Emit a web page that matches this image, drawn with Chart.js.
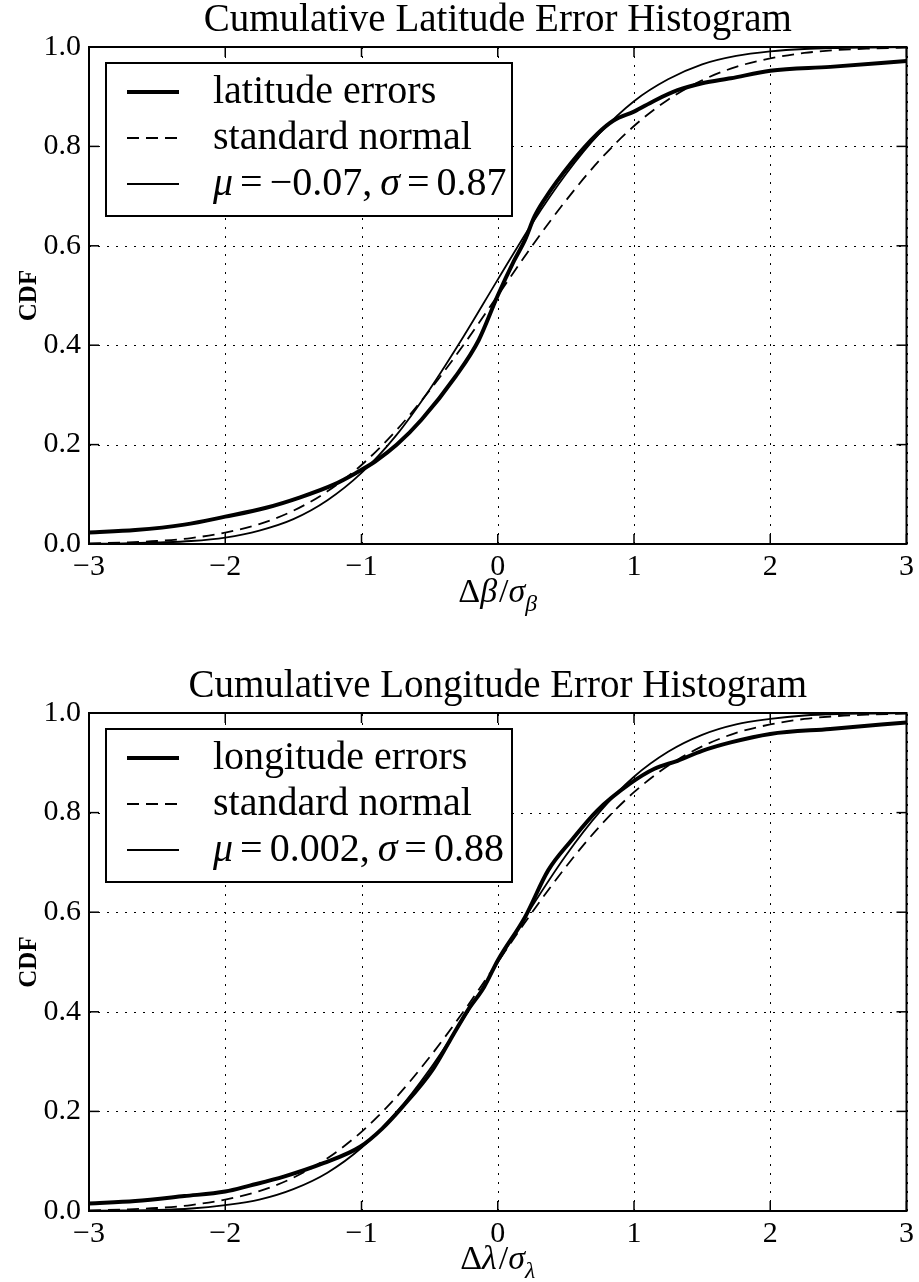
<!DOCTYPE html>
<html>
<head>
<meta charset="utf-8">
<script src="https://cdn.jsdelivr.net/npm/chart.js@4.4.1/dist/chart.umd.min.js"></script>
<style>
  body { margin: 0; background: #fff; width: 919px; height: 1282px; position: relative; overflow: hidden; }
  canvas { position: absolute; left: 0; }
  #latChart { top: 0; }
  #lonChart { top: 662px; }
</style>
</head>
<body>
<canvas id="latChart" width="919" height="620"></canvas>
<canvas id="lonChart" width="919" height="620"></canvas>
<script>
// shared x grid for the two normal curves
const gridX = [-3, -2.75, -2.5, -2.25, -2, -1.75, -1.5, -1.25, -1, -0.75, -0.5, -0.25, 0,
  0.25, 0.5, 0.75, 1, 1.25, 1.5, 1.75, 2, 2.25, 2.5, 2.75, 3];
const stdNormal = [0.001, 0.003, 0.006, 0.012, 0.023, 0.040, 0.067, 0.106, 0.159, 0.227, 0.309, 0.401, 0.5,
  0.599, 0.691, 0.773, 0.841, 0.894, 0.933, 0.960, 0.977, 0.988, 0.994, 0.997, 0.999];

// latitude panel
const latX = [-3, -2.66, -2.3, -2, -1.7, -1.45, -1.2, -1.04, -0.9, -0.74, -0.56, -0.31, -0.14, 0,
  0.12, 0.2, 0.27, 0.34, 0.54, 0.73, 0.85, 1, 1.15, 1.32, 1.5, 1.71, 2, 2.44, 3];
const latY = [0.023, 0.028, 0.039, 0.055, 0.073, 0.094, 0.120, 0.143, 0.166, 0.200, 0.250, 0.337, 0.410, 0.500,
  0.570, 0.612, 0.659, 0.692, 0.767, 0.825, 0.852, 0.870, 0.892, 0.913, 0.927, 0.937, 0.952, 0.960, 0.972];
const latFit = [0.0004, 0.001, 0.003, 0.006, 0.013, 0.027, 0.050, 0.088, 0.143, 0.217, 0.311, 0.418, 0.532,
  0.644, 0.744, 0.827, 0.891, 0.935, 0.965, 0.982, 0.991, 0.996, 0.998, 0.999, 1.0];

// longitude panel
const lonX = [-3, -2.66, -2.3, -2, -1.82, -1.57, -1.28, -1.01, -0.85, -0.7, -0.48, -0.35, -0.22, -0.1, 0,
  0.2, 0.37, 0.54, 0.73, 0.97, 1.15, 1.32, 1.5, 1.71, 2, 2.44, 3];
const lonY = [0.015, 0.020, 0.030, 0.039, 0.051, 0.069, 0.096, 0.129, 0.165, 0.209, 0.283, 0.343, 0.403, 0.450, 0.503,
  0.590, 0.684, 0.744, 0.804, 0.858, 0.888, 0.904, 0.924, 0.941, 0.958, 0.968, 0.981];
const lonFit = [0.0003, 0.001, 0.002, 0.005, 0.012, 0.023, 0.044, 0.077, 0.127, 0.196, 0.284, 0.387, 0.499,
  0.611, 0.714, 0.802, 0.872, 0.922, 0.956, 0.977, 0.988, 0.995, 0.998, 0.999, 1.0];

const xTicks = [-3, -2, -1, 0, 1, 2, 3];
const yTicks = [0, 0.2, 0.4, 0.6, 0.8, 1.0];

const SERIF = '"Liberation Serif", "DejaVu Serif", serif';

function pts(xs, ys) {
  return xs.map((x, i) => ({ x: x, y: ys[i] }));
}

// text made of pieces: italic, subscript, or a plain gap in px
function partFont(p, size) {
  const s = p.sub ? size * 0.7 : size;
  return (p.it ? 'italic ' : '') + s + 'px ' + SERIF;
}
function richWidth(ctx, parts, size) {
  let w = 0;
  parts.forEach((p) => {
    if (p.gap) { w += p.gap; return; }
    ctx.font = partFont(p, size);
    w += ctx.measureText(p.t).width;
  });
  return w;
}
function drawRich(ctx, parts, x, y, size) {
  parts.forEach((p) => {
    if (p.gap) { x += p.gap; return; }
    ctx.font = partFont(p, size);
    ctx.fillText(p.t, x, y + (p.sub ? size * 0.25 : 0));
    x += ctx.measureText(p.t).width;
  });
}

const axesDeco = {
  id: 'axesDeco',
  beforeDatasetsDraw(chart) {
    const { ctx, chartArea: a, scales: { x, y } } = chart;
    ctx.save();
    ctx.strokeStyle = '#000';
    ctx.lineWidth = 1;
    ctx.setLineDash([2, 7]);
    xTicks.forEach((v) => {
      const px = Math.round(x.getPixelForValue(v)) + 0.5;
      ctx.beginPath(); ctx.moveTo(px, a.bottom); ctx.lineTo(px, a.top); ctx.stroke();
    });
    yTicks.forEach((v) => {
      const py = Math.round(y.getPixelForValue(v)) + 0.5;
      ctx.beginPath(); ctx.moveTo(a.left, py); ctx.lineTo(a.right, py); ctx.stroke();
    });
    ctx.restore();
  },
  afterDatasetsDraw(chart) {
    const { ctx, chartArea: a, scales: { x, y } } = chart;
    const o = chart.options.deco;
    ctx.save();
    ctx.strokeStyle = '#000';
    ctx.setLineDash([]);
    // inward ticks on all four sides
    ctx.lineWidth = 1.5;
    xTicks.forEach((v) => {
      const px = x.getPixelForValue(v);
      ctx.beginPath(); ctx.moveTo(px, a.bottom); ctx.lineTo(px, a.bottom - 10); ctx.stroke();
      ctx.beginPath(); ctx.moveTo(px, a.top); ctx.lineTo(px, a.top + 10); ctx.stroke();
    });
    yTicks.forEach((v) => {
      const py = y.getPixelForValue(v);
      ctx.beginPath(); ctx.moveTo(a.left, py); ctx.lineTo(a.left + 10, py); ctx.stroke();
      ctx.beginPath(); ctx.moveTo(a.right, py); ctx.lineTo(a.right - 10, py); ctx.stroke();
    });
    ctx.lineWidth = 2;
    ctx.strokeRect(a.left, a.top, a.right - a.left, a.bottom - a.top);

    // title
    ctx.fillStyle = '#000';
    ctx.textAlign = 'center';
    ctx.textBaseline = 'alphabetic';
    ctx.font = '39px ' + SERIF;
    ctx.fillText(o.title, (a.left + a.right) / 2, a.top - 16);

    // y axis title
    ctx.save();
    ctx.translate(30, (a.top + a.bottom) / 2);
    ctx.rotate(-Math.PI / 2);
    ctx.font = 'bold 25px ' + SERIF;
    ctx.textBaseline = 'middle';
    ctx.fillText('CDF', 0, 0);
    ctx.restore();

    // x axis title
    ctx.textAlign = 'left';
    const xs = 34;
    const w = richWidth(ctx, o.xLabel, xs);
    drawRich(ctx, o.xLabel, (a.left + a.right) / 2 - w / 2, a.bottom + 58, xs);

    // legend box
    const bx = a.left + 17, by = a.top + 16, bw = 406, bh = 153;
    ctx.fillStyle = '#fff';
    ctx.fillRect(bx, by, bw, bh);
    ctx.lineWidth = 2;
    ctx.strokeRect(bx, by, bw, bh);
    ctx.fillStyle = '#000';
    ctx.textBaseline = 'middle';
    chart.data.datasets.forEach((ds, i) => {
      const ry = by + 29 + i * 46;
      ctx.lineWidth = ds.borderWidth;
      ctx.setLineDash(ds.borderDash || []);
      ctx.beginPath(); ctx.moveTo(bx + 21, ry); ctx.lineTo(bx + 73, ry); ctx.stroke();
      ctx.setLineDash([]);
      drawRich(ctx, o.legend[i], bx + 107, ry, 40);
    });
    ctx.restore();
  }
};

function makeChart(id, cfg) {
  return new Chart(document.getElementById(id), {
    type: 'line',
    data: {
      datasets: [
        { data: pts(cfg.xs, cfg.ys), borderColor: '#000', borderWidth: 4, pointRadius: 0,
          cubicInterpolationMode: 'monotone', fill: false },
        { data: pts(gridX, stdNormal), borderColor: '#000', borderWidth: 1.8, borderDash: [12, 7],
          pointRadius: 0, cubicInterpolationMode: 'monotone', fill: false },
        { data: pts(gridX, cfg.fit), borderColor: '#000', borderWidth: 1.8, pointRadius: 0,
          cubicInterpolationMode: 'monotone', fill: false }
      ]
    },
    options: {
      responsive: false,
      animation: false,
      devicePixelRatio: 1,
      deco: cfg,
      layout: { padding: { left: 0, top: cfg.padTop, right: 9, bottom: 0 } },
      plugins: { legend: { display: false }, tooltip: { enabled: false }, title: { display: false } },
      scales: {
        x: {
          type: 'linear', min: -3, max: 3,
          grid: { display: false, drawTicks: false }, border: { display: false },
          ticks: {
            stepSize: 1, padding: 5, color: '#000', maxRotation: 0,
            font: { family: SERIF, size: 30 },
            callback: (v) => (v < 0 ? '\u2212' + (-v) : String(v))
          },
          afterFit(s) { s.height = cfg.axisH; }
        },
        y: {
          min: 0, max: 1,
          grid: { display: false, drawTicks: false }, border: { display: false },
          ticks: {
            stepSize: 0.2, padding: 8, color: '#000',
            font: { family: SERIF, size: 30 },
            callback: (v) => v.toFixed(1)
          },
          afterFit(s) { s.width = 89; }
        }
      }
    },
    plugins: [axesDeco]
  });
}

makeChart('latChart', {
  xs: latX, ys: latY, fit: latFit, padTop: 47, axisH: 76,
  title: 'Cumulative Latitude Error Histogram',
  xLabel: [{ t: '\u0394' }, { t: '\u03b2', it: true }, { gap: 2 }, { t: '/' }, { t: '\u03c3', it: true }, { t: '\u03b2', it: true, sub: true }],
  legend: [
    [{ t: 'latitude errors' }],
    [{ t: 'standard normal' }],
    [{ t: '\u03bc', it: true }, { gap: 7 }, { t: '=' }, { gap: 7 }, { t: '\u22120.07,' }, { gap: 8 },
     { t: '\u03c3', it: true }, { gap: 7 }, { t: '=' }, { gap: 7 }, { t: '0.87' }]
  ]
});

makeChart('lonChart', {
  xs: lonX, ys: lonY, fit: lonFit, padTop: 51, axisH: 71,
  title: 'Cumulative Longitude Error Histogram',
  xLabel: [{ t: '\u0394' }, { t: '\u03bb', it: true }, { gap: 2 }, { t: '/' }, { t: '\u03c3', it: true }, { t: '\u03bb', it: true, sub: true }],
  legend: [
    [{ t: 'longitude errors' }],
    [{ t: 'standard normal' }],
    [{ t: '\u03bc', it: true }, { gap: 7 }, { t: '=' }, { gap: 7 }, { t: '0.002,' }, { gap: 8 },
     { t: '\u03c3', it: true }, { gap: 7 }, { t: '=' }, { gap: 7 }, { t: '0.88' }]
  ]
});
</script>
</body>
</html>
